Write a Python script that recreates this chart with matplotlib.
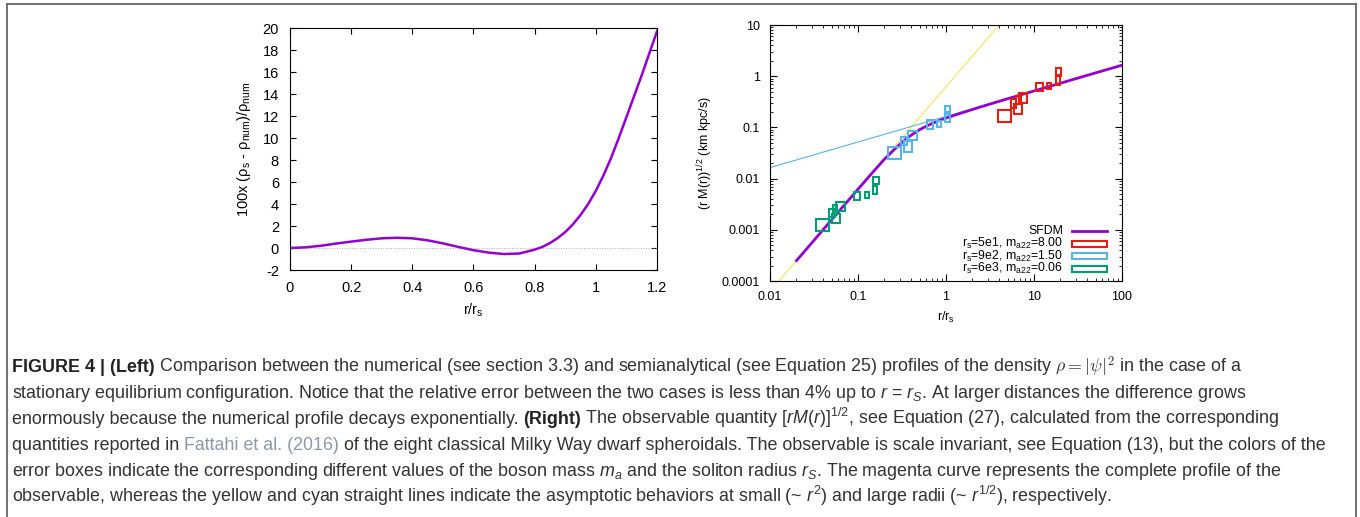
import matplotlib.pyplot as plt
from matplotlib.patches import Rectangle
from matplotlib.lines import Line2D

plt.rcParams['font.family'] = ['Liberation Sans', 'DejaVu Sans']
plt.rcParams['mathtext.fontset'] = 'custom'
plt.rcParams['mathtext.rm'] = 'Liberation Sans'
plt.rcParams['mathtext.it'] = 'Liberation Sans:italic'
plt.rcParams['mathtext.bf'] = 'Liberation Sans:bold'
plt.rcParams['axes.unicode_minus'] = False

# ---- left panel: relative error (percent) vs r/r_s
err_r = [0, 0.05, 0.1, 0.15, 0.2, 0.25, 0.3, 0.35, 0.4, 0.45, 0.5, 0.55, 0.6,
         0.65, 0.7, 0.75, 0.8, 0.825, 0.85, 0.875, 0.9, 0.925, 0.95, 0.975, 1.0,
         1.025, 1.05, 1.075, 1.1, 1.125, 1.15, 1.175, 1.2]
err_val = [0, 0.06, 0.2, 0.4, 0.58, 0.75, 0.88, 0.93, 0.88, 0.7, 0.42, 0.1, -0.2,
           -0.42, -0.55, -0.5, -0.15, 0.1, 0.45, 0.9, 1.45, 2.15, 3.0, 4.0, 5.2,
           6.6, 8.2, 10.0, 11.9, 13.8, 15.7, 17.7, 19.7]
left_xticks = [0, 0.2, 0.4, 0.6, 0.8, 1.0, 1.2]
left_xlabels = ['0', '0.2', '0.4', '0.6', '0.8', '1', '1.2']
left_yticks = [-2, 0, 2, 4, 6, 8, 10, 12, 14, 16, 18, 20]

# ---- right panel: sqrt(r M(r))
sfdm_r = [0.02, 0.03, 0.05, 0.07, 0.1, 0.15, 0.2, 0.25, 0.3, 0.35, 0.4, 0.5, 0.6,
          0.7, 0.85, 1.0, 1.3, 1.7, 2.2, 3, 5, 10, 20, 50, 100]
sfdm_v = [2.5e-4, 5.6e-4, 1.56e-3, 3.05e-3, 6.2e-3, 0.0138, 0.024, 0.035, 0.047,
          0.059, 0.070, 0.090, 0.106, 0.120, 0.138, 0.152, 0.177, 0.205, 0.236,
          0.278, 0.362, 0.515, 0.73, 1.16, 1.64]
small_r = [0.01, 4.0]          # ~ r^2 asymptote
small_v = [6.25e-5, 10.0]
large_r = [0.01, 100]          # ~ r^1/2 asymptote
large_v = [0.0164, 1.64]

red_xlo = [3.85, 5.50, 5.99, 6.21, 6.71, 10.6, 14.1, 17.7, 17.7]
red_xhi = [5.54, 6.31, 7.38, 7.08, 8.41, 12.7, 15.8, 19.6, 20.5]
red_ylo = [0.1256, 0.243, 0.183, 0.282, 0.295, 0.514, 0.555, 0.673, 1.024]
red_yhi = [0.219, 0.353, 0.282, 0.41, 0.462, 0.748, 0.726, 1.04, 1.445]

blue_xlo = [0.222, 0.307, 0.332, 0.369, 0.601, 0.794, 0.986, 0.986]
blue_xhi = [0.307, 0.356, 0.413, 0.463, 0.703, 0.873, 1.105, 1.10]
blue_ylo = [0.0238, 0.0453, 0.0336, 0.0568, 0.0931, 0.103, 0.197, 0.1256]
blue_yhi = [0.0408, 0.0659, 0.0542, 0.085, 0.1396, 0.133, 0.265, 0.18]

green_xlo = [0.033, 0.0469, 0.0515, 0.0512, 0.0561, 0.090, 0.119, 0.1466, 0.149]
green_xhi = [0.0463, 0.0542, 0.058, 0.062, 0.0705, 0.106, 0.132, 0.1627, 0.1727]
green_ylo = [0.00096, 0.00181, 0.00214, 0.00138, 0.0023, 0.00377, 0.00425, 0.0050, 0.00773]
green_yhi = [0.0016, 0.00255, 0.00309, 0.00204, 0.00344, 0.00556, 0.00556, 0.00728, 0.0109]

legend_labels = ['SFDM',
                 'r$_\\mathrm{s}$=5e1, m$_\\mathrm{a22}$=8.00',
                 'r$_\\mathrm{s}$=9e2, m$_\\mathrm{a22}$=1.50',
                 'r$_\\mathrm{s}$=6e3, m$_\\mathrm{a22}$=0.06']
right_ticks = [0.0001, 0.001, 0.01, 0.1, 1, 10, 100]
right_xlabels = ['0.01', '0.1', '1', '10', '100']
right_ylabels = ['0.0001', '0.001', '0.01', '0.1', '1', '10']

purple = '#9400d3'
red = '#e51e10'
blue = '#56b4e9'
green = '#009e73'
yellow = '#f0e442'

W, H = 1360, 517
fig = plt.figure(figsize=(W / 100, H / 100), dpi=100)

# left panel
ax1 = fig.add_axes([290 / W, 1 - 270 / H, 367 / W, 242 / H])
ax1.plot([0, 1.2], [0, 0], color='#aaaaaa', lw=0.7, ls=':')
ax1.plot(err_r, err_val, color=purple, lw=1.8)
ax1.set_xlim(0, 1.2)
ax1.set_ylim(-2, 20)
ax1.set_xticks(left_xticks)
ax1.set_xticklabels(left_xlabels)
ax1.set_yticks(left_yticks)
ax1.tick_params(direction='in', top=True, right=True, length=4, labelsize=10.5, pad=8)
ax1.set_xlabel('r/r$_\\mathrm{s}$', fontsize=10.5, labelpad=5)
ax1.set_ylabel('100x (ρ$_\\mathrm{s}$ - ρ$_\\mathrm{num}$)/ρ$_\\mathrm{num}$', fontsize=10.5, labelpad=7)

# right panel
ax2 = fig.add_axes([770 / W, 1 - 281 / H, 352 / W, 256 / H])
ax2.set_xscale('log')
ax2.set_yscale('log')
ax2.plot(small_r, small_v, color=yellow, lw=0.7)
ax2.plot(large_r, large_v, color=blue, lw=0.8)
ax2.plot(sfdm_r, sfdm_v, color=purple, lw=2.0, zorder=3)
box_sets = [(red, red_xlo, red_xhi, red_ylo, red_yhi),
            (blue, blue_xlo, blue_xhi, blue_ylo, blue_yhi),
            (green, green_xlo, green_xhi, green_ylo, green_yhi)]
for col, xlo, xhi, ylo, yhi in box_sets:
    for a, b, c, d in zip(xlo, xhi, ylo, yhi):
        ax2.add_patch(Rectangle((a, c), b - a, d - c, fill=False, ec=col, lw=1.5, zorder=4))
ax2.set_xlim(0.01, 100)
ax2.set_ylim(0.0001, 10)
ax2.set_xticks(right_ticks[2:])
ax2.set_xticklabels(right_xlabels)
ax2.set_yticks(right_ticks[:-1])
ax2.set_yticklabels(right_ylabels)
ax2.tick_params(which='both', direction='in', top=True, right=True, labelsize=9, pad=7)
ax2.tick_params(which='major', length=5)
ax2.tick_params(which='minor', length=2.5)
ax2.set_xlabel('r/r$_\\mathrm{s}$', fontsize=9, labelpad=5)
ax2.set_ylabel('(r M(r))$^{1/2}$ (km kpc/s)', fontsize=9, labelpad=5)

# gnuplot-style key, laid out by hand (right-aligned text, sample on the right)
ax_w, ax_h = 352, 256
key_text_x = (1063 - 770) / ax_w
key_s0 = (1072 - 770) / ax_w
key_s1 = (1107 - 770) / ax_w
key_rows = [231, 243.5, 256, 268.5]     # sample centres, figure pixels from top
for i, (lab, yc) in enumerate(zip(legend_labels, key_rows)):
    yf = (281 - yc) / ax_h
    ax2.text(key_text_x, yf - 3.5 / ax_h, lab, transform=ax2.transAxes, ha='right',
             va='baseline', fontsize=8.8)
    if i == 0:
        ax2.plot([key_s0, key_s1], [yf, yf], transform=ax2.transAxes, color=purple,
                 lw=2, clip_on=False)
    else:
        col = box_sets[i - 1][0]
        ax2.add_patch(Rectangle((key_s0, yf - 3 / ax_h), key_s1 - key_s0, 6 / ax_h,
                                transform=ax2.transAxes, fill=False, ec=col, lw=1.5,
                                clip_on=False))

# outer frame
frame = dict(transform=fig.transFigure, color='#666666', lw=1.3)
fig.add_artist(Line2D([7 / W, 7 / W], [0, 1 - 4 / H], **frame))
fig.add_artist(Line2D([1356 / W, 1356 / W], [0, 1 - 4 / H], **frame))
fig.add_artist(Line2D([7 / W, 1356 / W], [1 - 4 / H, 1 - 4 / H], **frame))

# caption
cap = fig.add_axes([0, 0, 1, 1], zorder=-1)
cap.axis('off')
fs = 12.9
txt = dict(color='#333333', fontsize=fs)
bold = dict(color='#222222', fontsize=fs, fontweight='bold')
link = dict(color='#8c98a4', fontsize=fs)
caption = [
    [('FIGURE 4 | (Left)', bold),
     (' Comparison between the numerical (see section 3.3) and semianalytical (see Equation 25) '
      'profiles of the density $\\rho = |\\psi|^2$ in the case of a', dict(txt, math_fontfamily='cm'))],
    [('stationary equilibrium configuration. Notice that the relative error between the two cases '
      'is less than 4% up to $r$ = $r_S$. At larger distances the difference grows', txt)],
    [('enormously because the numerical profile decays exponentially. ', txt),
     ('(Right)', bold),
     (' The observable quantity $[rM(r)]^{1/2}$, see Equation (27), calculated from the corresponding', txt)],
    [('quantities reported in ', txt),
     ('Fattahi et al. (2016)', link),
     (' of the eight classical Milky Way dwarf spheroidals. The observable is scale invariant, '
      'see Equation (13), but the colors of the', txt)],
    [('error boxes indicate the corresponding different values of the boson mass $m_a$ and the '
      'soliton radius $r_S$. The magenta curve represents the complete profile of the', txt)],
    [('observable, whereas the yellow and cyan straight lines indicate the asymptotic behaviors at '
      'small (~ $r^2$) and large radii (~ $r^{1/2}$), respectively.', txt)],
]
base = [372, 398, 424, 450, 476, 502]
for yb, runs in zip(base, caption):
    yf = 1 - yb / H
    prev = None
    for s, kw in runs:
        if prev is None:
            prev = cap.text(12 / W, yf, s, transform=fig.transFigure, va='baseline', ha='left', **kw)
        else:
            prev = cap.annotate(s, xy=(1, yf), xycoords=(prev, 'figure fraction'),
                                va='baseline', ha='left', annotation_clip=False, **kw)

fig.savefig('out.png', dpi=100)
